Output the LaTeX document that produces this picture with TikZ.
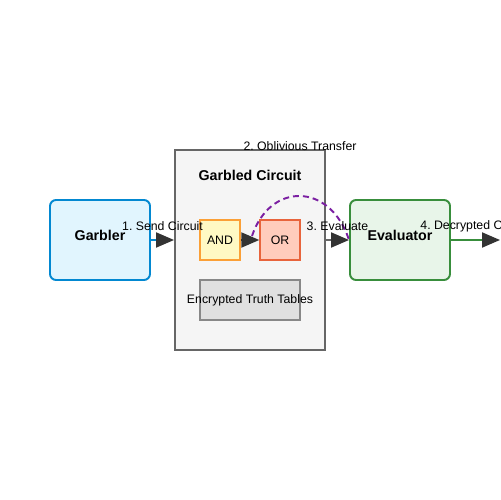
\documentclass[tikz,border=0pt]{standalone}
\usepackage{fontspec}
\setmainfont{Liberation Sans}
\usetikzlibrary{arrows.meta}
\frenchspacing

\definecolor{garblerfill}{HTML}{E1F5FE}
\definecolor{garblerline}{HTML}{0288D1}
\definecolor{evalfill}{HTML}{E8F5E9}
\definecolor{evalline}{HTML}{388E3C}
\definecolor{circfill}{HTML}{F5F5F5}
\definecolor{circline}{HTML}{666666}
\definecolor{andfill}{HTML}{FFF9C4}
\definecolor{andline}{HTML}{FBA037}
\definecolor{orfill}{HTML}{FFCCBC}
\definecolor{orline}{HTML}{E8643C}
\definecolor{tablefill}{HTML}{E0E0E0}
\definecolor{tableline}{HTML}{888888}
\definecolor{otline}{HTML}{7B1FA2}
\definecolor{headcol}{HTML}{333333}

\tikzset{
  party/.style={draw, rounded corners=0.12cm, line width=1.1pt, minimum width=2cm, minimum height=1.6cm},
  gate/.style={draw, line width=0.8pt, minimum width=0.8cm, minimum height=0.8cm, inner sep=0pt},
  lbl/.style={font=\fontsize{7}{8}\selectfont, inner sep=0pt},
  title/.style={font=\fontsize{8.1}{9}\selectfont\bfseries, inner sep=0pt},
  flow/.style={line width=1.1pt, -{Triangle[length=0.36cm, width=0.3cm, color=headcol]}}
}

\begin{document}
\begin{tikzpicture}[x=0.02cm, y=-0.02cm]
  \useasboundingbox (0,0) rectangle (500,500);
  % parties and circuit box
  \node (garbler) [party, fill=garblerfill, draw=garblerline] at (100,240) {};
  \node [title] at (100,235) {Garbler};
  \node (circuit) [draw=circline, fill=circfill, line width=1.1pt, minimum width=3cm, minimum height=4cm] at (250,250) {};
  \node [title] at (250,175) {Garbled Circuit};
  \node (evaluator) [party, fill=evalfill, draw=evalline] at (400,240) {};
  \node [title] at (400,235) {Evaluator};
  % gates
  \node (andgate) [gate, fill=andfill, draw=andline] at (220,240) {};
  \node [lbl] at (andgate) {AND};
  \node (orgate) [gate, fill=orfill, draw=orline] at (280,240) {};
  \node [lbl] at (orgate) {OR};
  \node (tables) [gate, fill=tablefill, draw=tableline, minimum width=2cm] at (250,300) {};
  \node [lbl] at (tables) {Encrypted Truth Tables};
  \coordinate (otstart) at (252,236);
  \coordinate (outend) at (500,240);
  % connectors
  \draw[flow, draw=garblerline] (garbler.east) -- (circuit.west |- garbler.east)
    node [lbl, midway, yshift=0.28cm] {1. Send Circuit};
  \draw[flow, draw=headcol] (andgate) -- (orgate);
  \draw[otline, line width=1.1pt, dash pattern=on 0.12cm off 0.08cm]
    (otstart) .. controls (270,182) and (330,182) .. (evaluator.west);
  \node [lbl] at (300,146) {2. Oblivious Transfer};
  \draw[flow, draw=circline] (circuit.east |- evaluator.west) -- (evaluator.west)
    node [lbl, midway, yshift=0.28cm] {3. Evaluate};
  \draw[flow, draw=evalline] (evaluator.east) -- (outend)
    node [lbl, midway, yshift=0.28cm] {4. Decrypted Output};
\end{tikzpicture}
\end{document}
